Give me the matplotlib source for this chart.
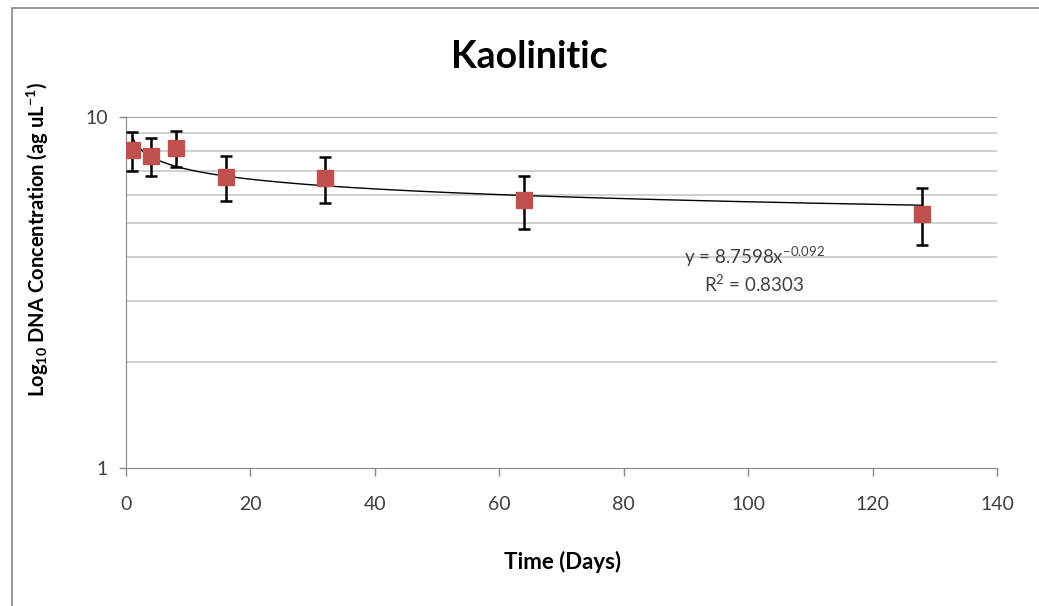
import matplotlib.pyplot as plt
import numpy as np

days = [1, 4, 8, 16, 32, 64, 128]
conc = [8.05, 7.74, 8.16, 6.75, 6.70, 5.80, 5.29]
err = [1.02, 0.95, 0.96, 0.98, 1.00, 1.01, 0.97]

fit_a = 8.7598
fit_b = -0.092

plt.rcParams['font.family'] = ['Lato', 'DejaVu Sans']
plt.rcParams['mathtext.default'] = 'regular'

fig = plt.figure(figsize=(10.39, 6.06), dpi=100)
ax = fig.add_axes([126 / 1039, 1 - 468 / 606, (997 - 126) / 1039, (468 - 117) / 606])

# chart border like the Excel chart area
fig.patches.append(plt.Rectangle((12 / 1039, -0.05), 1.1, 1 - 8 / 606 + 0.05,
                                 transform=fig.transFigure, fill=False,
                                 edgecolor='#888888', linewidth=1.2))

ax.set_yscale('log')
ax.set_ylim(1, 10)
ax.set_xlim(0, 140)

for v in range(2, 10):
    ax.axhline(v, color='#c8c8c8', linewidth=1.2, zorder=0)
ax.axhline(10, color='#8a8a8a', linewidth=1.2, zorder=0)

xs = np.linspace(1, 128, 300)
ax.plot(xs, fit_a * xs ** fit_b, color='black', linewidth=1, zorder=2)

ax.errorbar(days, conc, yerr=err, fmt='none', ecolor='black', elinewidth=1.8,
            capsize=4.5, capthick=1.8, zorder=3)
ax.plot(days, conc, linestyle='none', marker='s', markersize=12,
        color='#C0504D', zorder=4)

ax.set_xticks(range(0, 141, 20))
ax.set_yticks([1, 10])
ax.set_yticklabels(['1', '10'])
ax.yaxis.set_minor_locator(plt.NullLocator())
ax.tick_params(axis='both', labelsize=14, colors='#888888', labelcolor='#404040',
               length=6, width=1)
ax.tick_params(axis='x', pad=14)
ax.tick_params(axis='y', length=5, pad=8)

for s in ['top', 'right']:
    ax.spines[s].set_visible(False)
for s in ['left', 'bottom']:
    ax.spines[s].set_color('#888888')

fig.text(529 / 1039, 1 - 57 / 606, 'Kaolinitic', fontsize=27, fontweight='bold',
         ha='center', va='center')
fig.text(563 / 1039, 1 - 562 / 606, 'Time (Days)', fontsize=16, fontweight='bold',
         ha='center', va='center')
fig.text(38 / 1039, 1 - 240 / 606, 'Log$_{10}$ DNA Concentration (ag uL$^{-1}$)',
         fontsize=14.5, fontweight='bold', rotation=90, ha='center', va='center')

ax.text(101, 3.99, 'y = 8.7598x$^{-0.092}$', fontsize=13.5, color='#404040',
        ha='center', va='center')
ax.text(101, 3.34, 'R$^2$ = 0.8303', fontsize=13.5, color='#404040',
        ha='center', va='center')

fig.savefig('out.png', dpi=100)
